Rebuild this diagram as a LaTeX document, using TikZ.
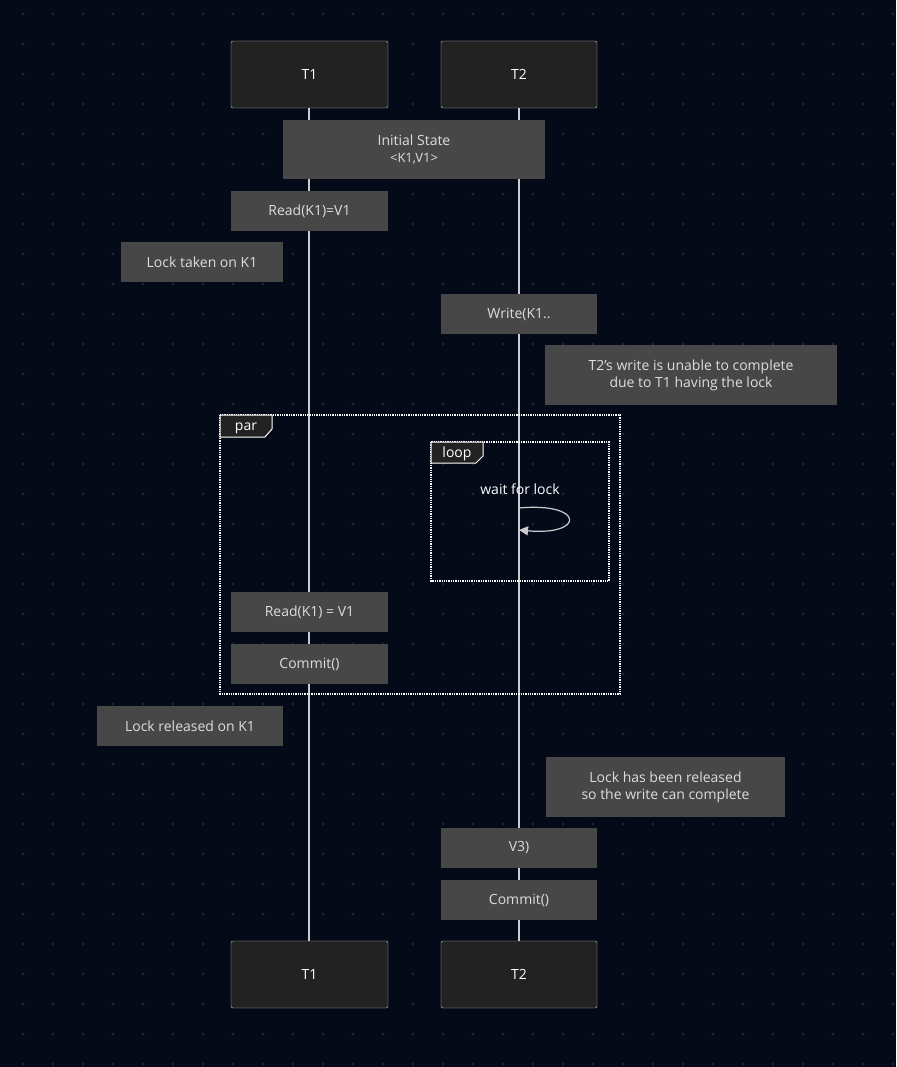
\documentclass[tikz,border=0pt]{standalone}
\usepackage{fontspec}
\setmainfont{Open Sans}
\usetikzlibrary{arrows.meta}
\definecolor{bg}{HTML}{050A18}
\definecolor{dotc}{HTML}{252A36}
\definecolor{actorfill}{HTML}{222222}
\definecolor{notefill}{HTML}{474747}
\definecolor{txt}{HTML}{DDDDDD}
\definecolor{linec}{HTML}{CCCCCC}
\begin{document}
\begin{tikzpicture}[x=1pt,y=-1pt,
  actor/.style={draw=linec,fill=actorfill,rounded corners=2pt,text=white,font=\fontsize{14}{16}\selectfont,inner sep=0},
  note/.style={fill=notefill,text=txt,font=\fontsize{14}{17}\selectfont,inner sep=0,align=center},
  frame/.style={draw=white,densely dotted,line width=1.3pt},
  tab/.style={draw=white,fill=actorfill,line width=1pt,text=white,font=\fontsize{14}{16}\selectfont},
  life/.style={draw=linec,line width=1.2pt}]
\fill[bg] (0,0) rectangle (896,1067);
\useasboundingbox (0,0) rectangle (896,1067);
\foreach \i in {0,...,29}{\foreach \j in {0,...,35}{
  \fill[dotc] ({23+30*\i},{14+30*\j}) circle (1.3);}}
% lifelines
\coordinate (l1t) at (309,108); \coordinate (l1b) at (309,941);
\coordinate (l2t) at (519,108); \coordinate (l2b) at (519,941);
\draw[life] (l1t) -- (l1b);
\draw[life] (l2t) -- (l2b);
% actors
\node[actor,minimum width=157,minimum height=67] (a1) at (309.5,74.5) {T1};
\node[actor,minimum width=156,minimum height=67] (a2) at (519,74.5) {T2};
\node[actor,minimum width=157,minimum height=67] (b1) at (309.5,974.5) {T1};
\node[actor,minimum width=156,minimum height=67] (b2) at (519,974.5) {T2};
% notes
\node[note,minimum width=262,minimum height=59] (init) at (414,149.5) {Initial State\\{\fontsize{13}{16}\selectfont<K1,V1>}};
\node[note,minimum width=157,minimum height=40] (r1) at (309.5,211) {Read(K1)=V1};
\node[note,minimum width=162,minimum height=40] (lt) at (202,262) {Lock taken on K1};
\node[note,minimum width=156,minimum height=40] (w) at (519,314) {Write(K1..};
\node[note,minimum width=292,minimum height=60] (n2) at (691,375) {T2's write is unable to complete\\due to T1 having the lock};
\node[note,minimum width=157,minimum height=40] (r2) at (309.5,612) {Read(K1) = V1};
\node[note,minimum width=157,minimum height=40] (c1) at (309.5,664) {Commit()};
\node[note,minimum width=186,minimum height=40] (lr) at (190,726) {Lock released on K1};
\node[note,minimum width=239,minimum height=60] (n3) at (665.5,787) {Lock has been released\\so the write can complete};
\node[note,minimum width=156,minimum height=40] (v3) at (519,848) {V3)};
\node[note,minimum width=156,minimum height=40] (c2) at (519,900) {Commit()};
% par frame
\draw[frame] (220,415) rectangle (620,694);
\draw[tab] (220,415) -- (272,415) -- (272,429) -- (265,437) -- (220,437) -- cycle;
\node[text=white,font=\fontsize{14}{16}\selectfont] (par) at (246,428) {par};
% loop frame
\draw[frame] (431,442) rectangle (609,581);
\draw[tab] (431,442) -- (483,442) -- (483,456) -- (476,463) -- (431,463) -- cycle;
\node[text=white,font=\fontsize{14}{16}\selectfont] (loop) at (457,454) {loop};
\node[text=white,font=\fontsize{14}{16}\selectfont] (wl) at (520,489) {wait for lock};
\coordinate (s1) at (519,508); \coordinate (s2) at (519,530);
\draw[linec,line width=1.2pt,-{Triangle[length=9pt,width=9pt]}] (s1) .. controls (585,502) and (585,536) .. (s2);
\end{tikzpicture}
\end{document}
